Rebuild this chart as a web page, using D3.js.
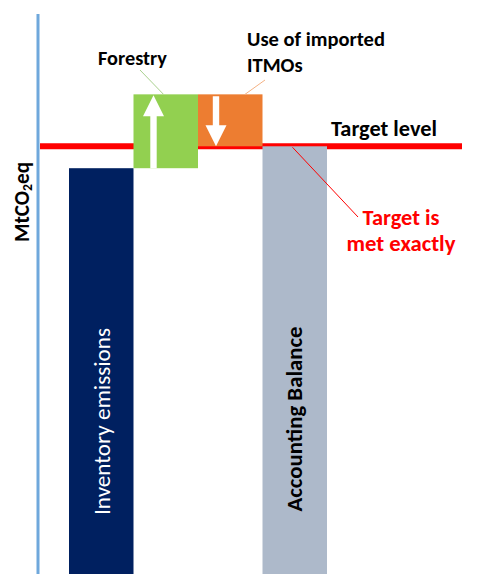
<!DOCTYPE html>
<html>
<head>
<meta charset="utf-8">
<script src="https://cdn.jsdelivr.net/npm/d3@7"></script>
<style>
  html, body { margin: 0; padding: 0; background: #fff; }
  svg { display: block; }
  text { font-family: Carlito, Lato, "Open Sans", sans-serif; }
</style>
</head>
<body>
<svg id="chart" width="490" height="574"></svg>
<script>
// ---- data (arbitrary MtCO2eq units) ----
const categories = ["Inventory emissions", "Forestry", "Use of imported ITMOs", "Accounting Balance"];
const changes = [100, 18.2, -12.8];   // inventory, forestry, ITMOs
const targetLevel = 105.4;
const yMax = 138;

// waterfall computation
const starts = [0, changes[0], changes[0] + changes[1], 0];
const balance = changes[0] + changes[1] + changes[2];
const ends = [changes[0], changes[0] + changes[1], balance, balance];
const fills = ["#002060", "#92d050", "#ed7d31", "#adb9ca"];

const svg = d3.select("#chart");
const W = 490, H = 574;

const x = d3.scaleBand().domain(categories).range([69, 327]).paddingInner(0).paddingOuter(0);
const y = d3.scaleLinear().domain([0, yMax]).range([H, 14]);

function fit(sel, width) {
  const node = sel.node();
  const fs = parseFloat(sel.attr("font-size"));
  const w = node.getComputedTextLength();
  sel.attr("font-size", (fs * width / w).toFixed(2));
  return sel;
}

// target line (drawn first; bars cover it)
svg.append("line")
  .attr("x1", 40).attr("x2", 462)
  .attr("y1", y(targetLevel)).attr("y2", y(targetLevel))
  .attr("stroke", "#ff0000").attr("stroke-width", 6);

// axis line
svg.append("line")
  .attr("x1", 38).attr("x2", 38)
  .attr("y1", y(yMax)).attr("y2", H)
  .attr("stroke", "#6fa8dc").attr("stroke-width", 3);

// bars
svg.selectAll("rect.bar").data(categories).join("rect")
  .attr("class", "bar")
  .attr("x", d => x(d))
  .attr("width", x.bandwidth())
  .attr("y", (d, i) => y(Math.max(starts[i], ends[i])))
  .attr("height", (d, i) => Math.abs(y(starts[i]) - y(ends[i])))
  .attr("fill", (d, i) => fills[i]);

// arrows
function arrowPath(cx, yFrom, yTo) {
  const dir = yTo < yFrom ? -1 : 1;
  const headLen = 21, headHalf = 10.5, shaftHalf = 3.2;
  const yBase = yTo - dir * headLen;
  return `M${cx - shaftHalf},${yFrom} L${cx - shaftHalf},${yBase} L${cx - headHalf},${yBase} L${cx},${yTo} L${cx + headHalf},${yBase} L${cx + shaftHalf},${yBase} L${cx + shaftHalf},${yFrom} Z`;
}
const gx = x(categories[1]) + 20;
svg.append("path").attr("d", arrowPath(gx, y(starts[1]), y(ends[1]) + 1)).attr("fill", "#fff");
const ox = x(categories[2]) + 18;
svg.append("path").attr("d", arrowPath(ox, y(starts[2]) + 2, y(ends[2]))).attr("fill", "#fff");

// leader lines
svg.append("line").attr("x1", 140).attr("y1", 70).attr("x2", x(categories[1]) + 30).attr("y2", y(ends[1]))
  .attr("stroke", "#a9d18e").attr("stroke-width", 1);
svg.append("line").attr("x1", 265).attr("y1", 80).attr("x2", x(categories[2]) + 47).attr("y2", y(starts[2]))
  .attr("stroke", "#f4b183").attr("stroke-width", 1);
svg.append("line").attr("x1", x(categories[3]) + 30).attr("y1", y(targetLevel) + 1).attr("x2", 358).attr("y2", 217)
  .attr("stroke", "#ff0000").attr("stroke-width", 1);

// labels
fit(svg.append("text").attr("x", 98).attr("y", 65).attr("font-size", 18).attr("font-weight", "bold")
  .attr("fill", "#000").text("Forestry"), 69);
const use1 = fit(svg.append("text").attr("x", 247).attr("y", 46).attr("font-size", 18).attr("font-weight", "bold")
  .attr("fill", "#000").text("Use of imported"), 138);
svg.append("text").attr("x", 247).attr("y", 72).attr("font-weight", "bold")
  .attr("font-size", use1.attr("font-size"))
  .attr("fill", "#000").text("ITMOs");
fit(svg.append("text").attr("x", 331).attr("y", 136).attr("font-size", 18).attr("font-weight", "bold")
  .attr("fill", "#000").text("Target level"), 106);
fit(svg.append("text").attr("x", 401).attr("y", 225).attr("text-anchor", "middle").attr("font-size", 18)
  .attr("font-weight", "bold").attr("fill", "#ff0000").text("Target is"), 77);
fit(svg.append("text").attr("x", 401).attr("y", 251).attr("text-anchor", "middle").attr("font-size", 18)
  .attr("font-weight", "bold").attr("fill", "#ff0000").text("met exactly"), 109);

// rotated bar labels
fit(svg.append("text").attr("transform", `translate(${x(categories[0]) + 41},421.5) rotate(-90)`)
  .attr("text-anchor", "middle").attr("font-size", 22).attr("fill", "#fff").text("Inventory emissions"), 187);
fit(svg.append("text").attr("transform", `translate(${x(categories[3]) + 39},419) rotate(-90)`)
  .attr("text-anchor", "middle").attr("font-size", 22).attr("font-weight", "bold").attr("fill", "#000").text("Accounting Balance"), 185);

// y axis title
const yt = svg.append("text").attr("transform", "translate(29,202) rotate(-90)")
  .attr("text-anchor", "middle").attr("font-size", 19).attr("font-weight", "bold").attr("fill", "#000");
yt.append("tspan").text("MtCO");
yt.append("tspan").attr("font-size", "0.65em").attr("dy", "0.25em").text("2");
yt.append("tspan").attr("dy", "-0.16em").text("eq");
(function(){
  const bb = yt.node().getBBox();
  const fs = 19 * 80 / bb.width;
  yt.attr("font-size", fs.toFixed(2));
})();
</script>
</body>
</html>
